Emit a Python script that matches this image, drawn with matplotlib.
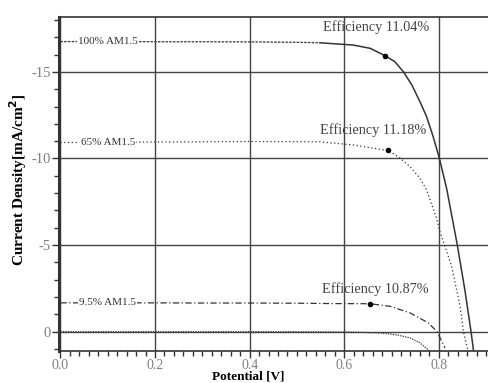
import matplotlib
matplotlib.use("Agg")
import matplotlib.pyplot as plt
from matplotlib.ticker import MultipleLocator

plt.rcParams['font.family'] = ['Liberation Serif', 'DejaVu Serif']

# J-V curves (V in volts, J in mA/cm2)
v_100 = [0.0, 0.1, 0.2, 0.3, 0.4, 0.5, 0.549, 0.619, 0.655, 0.686, 0.707, 0.725, 0.743, 0.760, 0.774,
         0.788, 0.801, 0.817, 0.839, 0.855, 0.868, 0.873]
j_100 = [-16.75, -16.76, -16.74, -16.74, -16.73, -16.71, -16.68, -16.55, -16.36, -15.94, -15.59, -15.01, -14.24, -13.28, -12.42,
         -11.26, -10.02, -8.19, -5.0, -2.4, 0.0, 1.04]

v_65 = [0.0, 0.1, 0.2, 0.3, 0.4, 0.5, 0.549, 0.619, 0.693, 0.718, 0.739, 0.760, 0.774, 0.795, 0.803,
        0.813, 0.827, 0.845, 0.852, 0.861]
j_65 = [-10.92, -10.93, -10.95, -10.96, -10.98, -10.97, -10.96, -10.78, -10.46, -10.02, -9.53, -8.86, -8.19, -6.56, -5.69,
        -4.92, -3.77, -1.46, 0.0, 1.04]

v_95 = [0.0, 0.1, 0.2, 0.3, 0.4, 0.5, 0.57, 0.655, 0.697, 0.739, 0.778, 0.796, 0.813]
j_95 = [-1.66, -1.66, -1.66, -1.65, -1.65, -1.64, -1.62, -1.61, -1.46, -1.08, -0.5, 0.0, 0.94]

v_dark = [0.0, 0.2, 0.4, 0.55, 0.62, 0.676, 0.71, 0.739, 0.76, 0.781]
j_dark = [0.0, 0.0, 0.0, 0.01, 0.03, 0.08, 0.18, 0.36, 0.65, 1.13]

# max power points
mpp_v = [0.686, 0.693, 0.655]
mpp_j = [-15.94, -10.46, -1.61]

labels = ['100% AM1.5', '65% AM1.5', '9.5% AM1.5']
label_j = [-16.75, -10.92, -1.66]
eff_text = ['Efficiency 11.04%', 'Efficiency 11.18%', 'Efficiency 10.87%']
eff_pos = [(0.667, -17.59), (0.662, -11.65), (0.665, -2.48)]

fig = plt.figure(figsize=(4.89, 3.83), dpi=100)
ax = fig.add_axes([59 / 489, 1 - 351 / 383, (489 - 59) / 489, (351 - 17) / 383])

ax.set_xlim(-0.003, 0.906)
ax.set_ylim(1.12, -18.17)

ax.grid(True, which='major', color='#444444', linewidth=1.0)
ax.set_axisbelow(True)

ax.plot(v_dark, j_dark, color='#333333', linestyle=(0, (1, 1)), linewidth=0.9)
ax.plot(v_95, j_95, color='#333333', linestyle=(0, (5, 2, 1, 2)), linewidth=0.9)
ax.plot(v_65, j_65, color='#333333', linestyle=(0, (1, 2)), linewidth=0.9)
# 100% curve: noisy dashed start, solid after the knee begins
ax.plot(v_100[:7], j_100[:7], color='#333333', linestyle=(0, (2, 1)), linewidth=0.9)
ax.plot(v_100[6:], j_100[6:], color='#333333', linestyle='-', linewidth=1.1)
ax.plot(mpp_v, mpp_j, 'o', color='black', markersize=3)

for lab, jj in zip(labels, label_j):
    ax.text(0.10, jj, lab, fontsize=8, color='#333333', ha='center', va='center',
            bbox=dict(facecolor='white', edgecolor='none', pad=1.0))

for t, (x, y) in zip(eff_text, eff_pos):
    ax.text(x, y, t, fontsize=10.3, color='#444444', ha='center', va='center')

ax.xaxis.set_minor_locator(MultipleLocator(0.02))
ax.yaxis.set_minor_locator(MultipleLocator(1))
ax.set_yticks([-15, -10, -5, 0])
ax.set_yticklabels(['-15', '-10', '-5', '0'])
ax.set_xticks([0.0, 0.2, 0.4, 0.6, 0.8])
ax.set_xticklabels(['0.0', '0.2', '0.4', '0.6', '0.8'])

ax.tick_params(which='major', direction='out', length=5, width=1, labelsize=10.5,
               labelcolor='#808080', color='#333333', pad=1)
ax.tick_params(axis='x', which='major', labelsize=10, pad=0.5)
ax.tick_params(which='minor', direction='out', length=3.5, width=1, color='#333333')
ax.tick_params(top=False, right=False, which='both')

ax.spines['left'].set_linewidth(2.2)
ax.spines['bottom'].set_linewidth(1.2)
ax.spines['top'].set_linewidth(1.2)
ax.spines['right'].set_visible(False)
for s in ax.spines.values():
    s.set_color('#333333')

ax.set_xlabel('Potential [V]', fontsize=9.5, fontweight='bold', va='bottom')
ax.xaxis.set_label_coords((248 - 59) / 430, -(382.7 - 351) / 334)
ax.set_ylabel('Current Density[mA/cm$^\\mathbf{2}$]', fontsize=11, fontweight='bold')
ax.yaxis.set_label_coords(-(59 - 29) / 430, (351 - 180) / 334)

fig.savefig('out.png', dpi=100)
